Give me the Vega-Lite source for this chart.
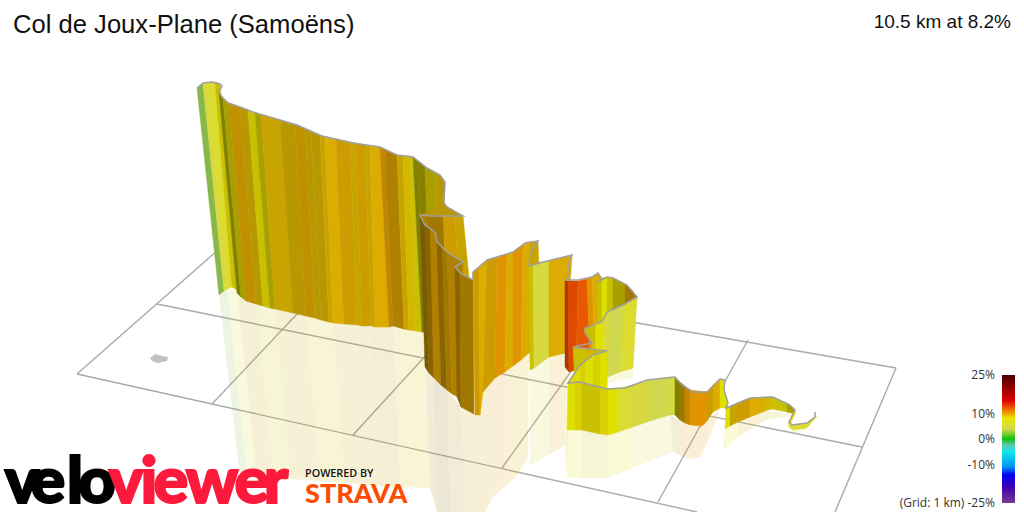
{
  "$schema": "https://vega.github.io/schema/vega-lite/v6.json",
  "width": 1024,
  "height": 512,
  "autosize": "none",
  "padding": 0,
  "background": "white",
  "view": {"stroke": null},
  "projection": {"type": "identity", "scale": 1, "translate": [0, 0]},
  "datasets": {
    "grid": [
      {"geo": {"type": "LineString", "coordinates": [[77,374],[218,250]]}},
      {"geo": {"type": "LineString", "coordinates": [[77,374],[697,512]]}},
      {"geo": {"type": "LineString", "coordinates": [[157,304],[862,447]]}},
      {"geo": {"type": "LineString", "coordinates": [[218,250],[896,368]]}},
      {"geo": {"type": "LineString", "coordinates": [[896,368],[835,512]]}},
      {"geo": {"type": "LineString", "coordinates": [[298,313],[212,404]]}},
      {"geo": {"type": "LineString", "coordinates": [[440,340],[353,435]]}},
      {"geo": {"type": "LineString", "coordinates": [[590,345],[502,468]]}},
      {"geo": {"type": "LineString", "coordinates": [[748,340],[658,502]]}}
    ],
    "start": [
      {"geo": {"type": "Polygon", "coordinates": [[[150,358],[155,354],[162,356],[168,357],[167,361],[158,363],[152,361],[150,358]]]}}
    ],
    "reflection": [
      {"tone":"g","geo":{"type":"Polygon","coordinates":[[[219,295],[227,289],[247,478],[240,478],[219,295]]]}},
      {"tone":"l","geo":{"type":"Polygon","coordinates":[[[227,289],[237,290],[257,478],[247,478],[227,289]]]}},
      {"tone":"d","geo":{"type":"Polygon","coordinates":[[[237,290],[256,304],[274,478],[257,478],[237,290]]]}},
      {"tone":"k","geo":{"type":"Polygon","coordinates":[[[256,304],[275,309],[291,479],[274,478],[256,304]]]}},
      {"tone":"d","geo":{"type":"Polygon","coordinates":[[[275,309],[306,316],[320,481],[291,479],[275,309]]]}},
      {"tone":"w","geo":{"type":"Polygon","coordinates":[[[306,316],[333,323],[345,483],[320,481],[306,316]]]}},
      {"tone":"d","geo":{"type":"Polygon","coordinates":[[[333,323],[371,327],[380,486],[345,483],[333,323]]]}},
      {"tone":"e","geo":{"type":"Polygon","coordinates":[[[371,327],[393,326],[400,487],[380,486],[371,327]]]}},
      {"tone":"w","geo":{"type":"Polygon","coordinates":[[[393,326],[423,332],[430,488],[400,487],[393,326]]]}},
      {"tone":"f","geo":{"type":"Polygon","coordinates":[[[425,367],[434,378],[437,512],[430,488],[425,367]]]}},
      {"tone":"h","geo":{"type":"Polygon","coordinates":[[[434,378],[447,390],[450,512],[437,512],[434,378]]]}},
      {"tone":"f","geo":{"type":"Polygon","coordinates":[[[447,390],[461,407],[465,512],[450,512],[447,390]]]}},
      {"tone":"a","geo":{"type":"Polygon","coordinates":[[[461,407],[478,415],[485,512],[465,512],[461,407]]]}},
      {"tone":"a","geo":{"type":"Polygon","coordinates":[[[478,398],[490,382],[493,497],[485,512],[478,415],[478,398]]]}},
      {"tone":"j","geo":{"type":"Polygon","coordinates":[[[490,382],[505,372],[505,486],[493,497],[490,382]]]}},
      {"tone":"b","geo":{"type":"Polygon","coordinates":[[[505,372],[518,362],[518,475],[505,486],[505,372]]]}},
      {"tone":"b","geo":{"type":"Polygon","coordinates":[[[518,362],[529,353],[528,457],[518,475],[518,362]]]}},
      {"tone":"p","geo":{"type":"Polygon","coordinates":[[[530,370],[549,357],[549,455],[530,465],[530,370]]]}},
      {"tone":"b","geo":{"type":"Polygon","coordinates":[[[549,357],[566,353],[565,445],[549,455],[549,357]]]}},
      {"tone":"y","geo":{"type":"Polygon","coordinates":[[[565,367],[570,372],[567,470],[565,470],[565,367]]]}},
      {"tone":"l","geo":{"type":"Polygon","coordinates":[[[600,380],[633,368],[633,378],[600,385],[600,380]]]}},
      {"tone":"y","geo":{"type":"Polygon","coordinates":[[[567,430],[582,430],[582,478],[567,478],[567,430]]]}},
      {"tone":"k","geo":{"type":"Polygon","coordinates":[[[582,430],[608,435],[607,478],[582,478],[582,430]]]}},
      {"tone":"y","geo":{"type":"Polygon","coordinates":[[[608,435],[630,428],[633,468],[607,478],[608,435]]]}},
      {"tone":"p","geo":{"type":"Polygon","coordinates":[[[630,428],[670,415],[673,452],[660,457],[633,468],[630,428]]]}},
      {"tone":"o","geo":{"type":"Polygon","coordinates":[[[670,415],[680,420],[680,455],[673,452],[670,415]]]}},
      {"tone":"j","geo":{"type":"Polygon","coordinates":[[[680,420],[707,421],[707,443],[700,457],[687,459],[680,455],[680,420]]]}},
      {"tone":"b","geo":{"type":"Polygon","coordinates":[[[707,421],[720,408],[715,423],[707,443],[707,421]]]}},
      {"tone":"y","geo":{"type":"Polygon","coordinates":[[[725,429],[738,422],[738,437],[723,450],[725,429]]]}},
      {"tone":"b","geo":{"type":"Polygon","coordinates":[[[738,422],[765,411],[765,420],[738,437],[738,422]]]}},
      {"tone":"w","geo":{"type":"Polygon","coordinates":[[[765,411],[795,414],[790,416],[765,420],[765,411]]]}},
      {"tone":"l","geo":{"type":"Polygon","coordinates":[[[789,427],[807,428],[805,431],[792,434],[789,427]]]}}
    ],
    "walls": [
      {"tone":"g","geo":{"type":"Polygon","coordinates":[[[197,88],[203,83],[224,291],[219,295],[197,88]]]}},
      {"tone":"p","geo":{"type":"Polygon","coordinates":[[[203,83],[207,82],[227,289],[224,291],[203,83]]]}},
      {"tone":"l","geo":{"type":"Polygon","coordinates":[[[207,82],[215,82],[232,287],[227,289],[207,82]]]}},
      {"tone":"k","geo":{"type":"Polygon","coordinates":[[[215,82],[220,84],[237,290],[232,287],[215,82]]]}},
      {"tone":"m","geo":{"type":"Polygon","coordinates":[[[219,92],[223,98],[241,297],[237,293],[219,92]]]}},
      {"tone":"o","geo":{"type":"Polygon","coordinates":[[[223,98],[229,103],[246,301],[241,297],[223,98]]]}},
      {"tone":"e","geo":{"type":"Polygon","coordinates":[[[229,103],[240,107],[256,304],[246,301],[229,103]]]}},
      {"tone":"q","geo":{"type":"Polygon","coordinates":[[[240,107],[248,110],[263,306],[256,304],[240,107]]]}},
      {"tone":"k","geo":{"type":"Polygon","coordinates":[[[248,110],[255,113],[270,308],[263,306],[248,110]]]}},
      {"tone":"o","geo":{"type":"Polygon","coordinates":[[[255,113],[261,115],[275,309],[270,308],[255,113]]]}},
      {"tone":"d","geo":{"type":"Polygon","coordinates":[[[261,115],[280,120],[293,313],[275,309],[261,115]]]}},
      {"tone":"q","geo":{"type":"Polygon","coordinates":[[[280,120],[295,125],[306,316],[293,313],[280,120]]]}},
      {"tone":"e","geo":{"type":"Polygon","coordinates":[[[295,125],[305,129],[315,318],[306,316],[295,125]]]}},
      {"tone":"q","geo":{"type":"Polygon","coordinates":[[[305,129],[311,132],[321,320],[315,318],[305,129]]]}},
      {"tone":"q","geo":{"type":"Polygon","coordinates":[[[311,132],[320,135],[329,322],[321,320],[311,132]]]}},
      {"tone":"d","geo":{"type":"Polygon","coordinates":[[[320,135],[325,137],[333,323],[329,322],[320,135]]]}},
      {"tone":"b","geo":{"type":"Polygon","coordinates":[[[325,137],[336,139],[344,324],[333,323],[325,137]]]}},
      {"tone":"a","geo":{"type":"Polygon","coordinates":[[[336,139],[350,142],[357,325],[344,324],[336,139]]]}},
      {"tone":"d","geo":{"type":"Polygon","coordinates":[[[350,142],[356,143],[362,326],[357,325],[350,142]]]}},
      {"tone":"a","geo":{"type":"Polygon","coordinates":[[[356,143],[365,145],[371,326],[362,326],[356,143]]]}},
      {"tone":"d","geo":{"type":"Polygon","coordinates":[[[365,145],[370,146],[375,327],[371,326],[365,145]]]}},
      {"tone":"b","geo":{"type":"Polygon","coordinates":[[[370,146],[380,147],[389,327],[375,327],[370,146]]]}},
      {"tone":"i","geo":{"type":"Polygon","coordinates":[[[380,147],[385,150],[393,326],[389,327],[380,147]]]}},
      {"tone":"f","geo":{"type":"Polygon","coordinates":[[[385,150],[397,155],[404,329],[393,326],[385,150]]]}},
      {"tone":"d","geo":{"type":"Polygon","coordinates":[[[397,155],[403,156],[409,330],[404,329],[397,155]]]}},
      {"tone":"w","geo":{"type":"Polygon","coordinates":[[[403,156],[410,156],[416,331],[409,330],[403,156]]]}},
      {"tone":"k","geo":{"type":"Polygon","coordinates":[[[410,156],[413,157],[422,332],[416,331],[410,156]]]}},
      {"tone":"m","geo":{"type":"Polygon","coordinates":[[[413,157],[417,160],[426,332],[422,332],[413,157]]]}},
      {"tone":"x","geo":{"type":"Polygon","coordinates":[[[417,160],[425,167],[432,332],[426,332],[417,160]]]}},
      {"tone":"o","geo":{"type":"Polygon","coordinates":[[[425,167],[435,172],[438,332],[432,332],[425,167]]]}},
      {"tone":"q","geo":{"type":"Polygon","coordinates":[[[435,172],[441,176],[445,182],[444,203],[444,332],[438,332],[435,172]]]}},
      {"tone":"q","geo":{"type":"Polygon","coordinates":[[[444,203],[447,207],[463,216],[420,216],[444,203]]]}},
      {"tone":"f","geo":{"type":"Polygon","coordinates":[[[420,215],[428,215],[432,300],[425,300],[420,215]]]}},
      {"tone":"v","geo":{"type":"Polygon","coordinates":[[[428,215],[443,216],[447,300],[432,300],[428,215]]]}},
      {"tone":"a","geo":{"type":"Polygon","coordinates":[[[443,216],[455,216],[459,290],[447,300],[443,216]]]}},
      {"tone":"d","geo":{"type":"Polygon","coordinates":[[[455,216],[463,216],[469,278],[459,290],[455,216]]]}},
      {"tone":"t","geo":{"type":"Polygon","coordinates":[[[420,215],[425,225],[429,373],[425,367],[420,215]]]}},
      {"tone":"h","geo":{"type":"Polygon","coordinates":[[[425,225],[430,229],[434,378],[429,373],[425,225]]]}},
      {"tone":"f","geo":{"type":"Polygon","coordinates":[[[430,229],[435,232],[437,242],[441,385],[434,378],[430,229]]]}},
      {"tone":"h","geo":{"type":"Polygon","coordinates":[[[437,242],[442,248],[447,390],[441,385],[437,242]]]}},
      {"tone":"v","geo":{"type":"Polygon","coordinates":[[[442,248],[447,252],[452,394],[447,390],[442,248]]]}},
      {"tone":"f","geo":{"type":"Polygon","coordinates":[[[447,252],[463,262],[458,397],[452,394],[447,252]]]}},
      {"tone":"h","geo":{"type":"Polygon","coordinates":[[[455,267],[460,273],[461,407],[457,397],[455,267]]]}},
      {"tone":"v","geo":{"type":"Polygon","coordinates":[[[460,273],[473,280],[474,414],[461,407],[460,273]]]}},
      {"tone":"a","geo":{"type":"Polygon","coordinates":[[[473,272],[479,267],[480,415],[475,415],[473,272]]]}},
      {"tone":"b","geo":{"type":"Polygon","coordinates":[[[479,267],[487,260],[483,392],[480,415],[479,267]]]}},
      {"tone":"a","geo":{"type":"Polygon","coordinates":[[[487,260],[497,257],[495,378],[483,392],[487,260]]]}},
      {"tone":"j","geo":{"type":"Polygon","coordinates":[[[497,257],[507,254],[505,372],[495,378],[497,257]]]}},
      {"tone":"b","geo":{"type":"Polygon","coordinates":[[[507,254],[513,252],[513,366],[505,372],[507,254]]]}},
      {"tone":"j","geo":{"type":"Polygon","coordinates":[[[513,252],[523,245],[521,360],[513,366],[513,252]]]}},
      {"tone":"b","geo":{"type":"Polygon","coordinates":[[[523,245],[530,242],[529,353],[521,360],[523,245]]]}},
      {"tone":"d","geo":{"type":"Polygon","coordinates":[[[530,242],[538,241],[542,345],[529,353],[530,242]]]}},
      {"tone":"k","geo":{"type":"Polygon","coordinates":[[[529,266],[533,265],[534,368],[530,370],[529,266]]]}},
      {"tone":"p","geo":{"type":"Polygon","coordinates":[[[533,265],[549,261],[549,357],[534,368],[533,265]]]}},
      {"tone":"b","geo":{"type":"Polygon","coordinates":[[[549,261],[572,255],[566,353],[549,357],[549,261]]]}},
      {"tone":"s","geo":{"type":"Polygon","coordinates":[[[565,281],[568,281],[569,372],[565,367],[565,281]]]}},
      {"tone":"r","geo":{"type":"Polygon","coordinates":[[[568,281],[578,281],[576,370],[569,372],[568,281]]]}},
      {"tone":"n","geo":{"type":"Polygon","coordinates":[[[578,281],[587,279],[590,360],[576,370],[578,281]]]}},
      {"tone":"j","geo":{"type":"Polygon","coordinates":[[[587,279],[592,277],[595,355],[590,360],[587,279]]]}},
      {"tone":"b","geo":{"type":"Polygon","coordinates":[[[592,277],[598,273],[602,279],[600,350],[595,355],[592,277]]]}},
      {"tone":"k","geo":{"type":"Polygon","coordinates":[[[598,281],[602,278],[602,340],[598,340],[598,281]]]}},
      {"tone":"y","geo":{"type":"Polygon","coordinates":[[[602,278],[607,277],[607,340],[602,340],[602,278]]]}},
      {"tone":"k","geo":{"type":"Polygon","coordinates":[[[607,277],[613,278],[613,340],[607,340],[607,277]]]}},
      {"tone":"o","geo":{"type":"Polygon","coordinates":[[[613,278],[625,284],[625,340],[613,340],[613,278]]]}},
      {"tone":"v","geo":{"type":"Polygon","coordinates":[[[625,284],[632,290],[637,297],[630,340],[625,340],[625,284]]]}},
      {"tone":"l","geo":{"type":"Polygon","coordinates":[[[637,297],[623,305],[620,372],[633,368],[637,297]]]}},
      {"tone":"z","geo":{"type":"Polygon","coordinates":[[[623,305],[610,311],[608,377],[620,372],[623,305]]]}},
      {"tone":"p","geo":{"type":"Polygon","coordinates":[[[610,311],[604,318],[605,378],[608,377],[610,311]]]}},
      {"tone":"l","geo":{"type":"Polygon","coordinates":[[[604,318],[602,322],[604,380],[605,378],[604,318]]]}},
      {"tone":"y","geo":{"type":"Polygon","coordinates":[[[602,322],[595,325],[595,380],[604,380],[602,322]]]}},
      {"tone":"k","geo":{"type":"Polygon","coordinates":[[[595,325],[585,328],[585,333],[592,343],[590,380],[595,380],[595,325]]]}},
      {"tone":"k","geo":{"type":"Polygon","coordinates":[[[573,347],[585,349],[585,385],[575,385],[573,347]]]}},
      {"tone":"w","geo":{"type":"Polygon","coordinates":[[[585,349],[597,350],[597,388],[585,385],[585,349]]]}},
      {"tone":"k","geo":{"type":"Polygon","coordinates":[[[597,350],[607,351],[607,390],[597,388],[597,350]]]}},
      {"tone":"y","geo":{"type":"Polygon","coordinates":[[[607,351],[600,353],[600,390],[607,390],[607,351]]]}},
      {"tone":"c","geo":{"type":"Polygon","coordinates":[[[600,353],[593,355],[593,390],[600,390],[600,353]]]}},
      {"tone":"y","geo":{"type":"Polygon","coordinates":[[[593,355],[585,361],[585,388],[593,390],[593,355]]]}},
      {"tone":"c","geo":{"type":"Polygon","coordinates":[[[585,361],[580,365],[580,386],[585,388],[585,361]]]}},
      {"tone":"y","geo":{"type":"Polygon","coordinates":[[[580,365],[570,380],[568,383],[580,386],[580,365]]]}},
      {"tone":"y","geo":{"type":"Polygon","coordinates":[[[568,382],[575,382],[575,430],[567,430],[568,382]]]}},
      {"tone":"c","geo":{"type":"Polygon","coordinates":[[[575,382],[582,383],[582,430],[575,430],[575,382]]]}},
      {"tone":"k","geo":{"type":"Polygon","coordinates":[[[582,383],[600,388],[600,434],[582,430],[582,383]]]}},
      {"tone":"c","geo":{"type":"Polygon","coordinates":[[[600,388],[608,389],[608,435],[600,434],[600,388]]]}},
      {"tone":"y","geo":{"type":"Polygon","coordinates":[[[608,389],[618,388],[618,432],[608,435],[608,389]]]}},
      {"tone":"l","geo":{"type":"Polygon","coordinates":[[[618,388],[630,386],[630,428],[618,432],[618,388]]]}},
      {"tone":"p","geo":{"type":"Polygon","coordinates":[[[630,386],[650,380],[650,421],[630,428],[630,386]]]}},
      {"tone":"z","geo":{"type":"Polygon","coordinates":[[[650,380],[670,377],[670,415],[650,421],[650,380]]]}},
      {"tone":"p","geo":{"type":"Polygon","coordinates":[[[670,377],[675,377],[675,415],[670,415],[670,377]]]}},
      {"tone":"m","geo":{"type":"Polygon","coordinates":[[[675,377],[680,382],[680,420],[675,415],[675,377]]]}},
      {"tone":"v","geo":{"type":"Polygon","coordinates":[[[680,382],[685,386],[685,423],[680,420],[680,382]]]}},
      {"tone":"i","geo":{"type":"Polygon","coordinates":[[[685,386],[690,390],[690,425],[685,423],[685,386]]]}},
      {"tone":"j","geo":{"type":"Polygon","coordinates":[[[690,390],[707,392],[707,421],[702,426],[690,425],[690,390]]]}},
      {"tone":"a","geo":{"type":"Polygon","coordinates":[[[707,392],[713,385],[713,412],[707,421],[707,392]]]}},
      {"tone":"b","geo":{"type":"Polygon","coordinates":[[[713,385],[720,379],[720,408],[713,412],[713,385]]]}},
      {"tone":"y","geo":{"type":"Polygon","coordinates":[[[720,379],[725,380],[724,390],[728,403],[726,408],[720,408],[720,379]]]}},
      {"tone":"y","geo":{"type":"Polygon","coordinates":[[[726,408],[730,407],[730,426],[725,429],[726,408]]]}},
      {"tone":"d","geo":{"type":"Polygon","coordinates":[[[730,407],[738,403],[738,422],[730,426],[730,407]]]}},
      {"tone":"a","geo":{"type":"Polygon","coordinates":[[[738,403],[750,398],[750,417],[738,422],[738,403]]]}},
      {"tone":"b","geo":{"type":"Polygon","coordinates":[[[750,398],[765,397],[765,411],[750,417],[750,398]]]}},
      {"tone":"w","geo":{"type":"Polygon","coordinates":[[[765,397],[772,397],[772,409],[765,411],[765,397]]]}},
      {"tone":"k","geo":{"type":"Polygon","coordinates":[[[772,397],[787,403],[787,412],[772,409],[772,397]]]}},
      {"tone":"o","geo":{"type":"Polygon","coordinates":[[[787,403],[795,410],[795,414],[787,412],[787,403]]]}},
      {"tone":"y","geo":{"type":"Polygon","coordinates":[[[795,410],[789,422],[789,427],[795,414],[795,410]]]}},
      {"tone":"l","geo":{"type":"Polygon","coordinates":[[[789,422],[792,425],[807,423],[815,417],[817,416],[807,428],[793,430],[789,427],[789,422]]]}}
    ],
    "route": [
      {"geo":{"type":"LineString","coordinates":[[197,88],[203,83],[212,82],[220,84],[222,86],[219,92],[222,97],[228,103],[240,107],[253,112],[280,120],[297,125],[322,136],[353,143],[380,147],[397,155],[413,157],[427,168],[440,175],[445,182],[444,203],[447,207],[463,216],[432,216],[420,215],[425,225],[435,232],[437,242],[447,252],[463,262],[455,267],[460,273],[473,280],[473,272],[487,260],[497,257],[513,252],[525,243],[538,241],[530,253],[529,266],[543,262],[572,255],[568,265],[570,273],[566,280],[578,280],[592,277],[598,273],[602,279],[598,282],[607,277],[613,278],[627,285],[637,297],[623,305],[607,312],[602,322],[585,328],[585,333],[592,343],[573,347],[590,349],[607,351],[593,355],[580,365],[570,380],[568,383],[580,382],[607,389],[625,388],[647,380],[675,377],[682,385],[693,392],[707,392],[720,379],[725,380],[724,390],[728,403],[726,408],[750,398],[773,397],[790,405],[795,410],[789,422],[792,425],[807,423],[815,417],[815,412]]}}
    ],
    "scalebar": [
      {"geo":{"type":"Polygon","coordinates":[[[1002,375],[1015,375],[1015,503],[1002,503],[1002,375]]]}}
    ],
    "scaleLabels": [
      {"label":"25%","lon":995,"lat":379},
      {"label":"10%","lon":995,"lat":418},
      {"label":"0%","lon":995,"lat":443},
      {"label":"-10%","lon":995,"lat":469},
      {"label":"(Grid: 1 km) -25%","lon":995,"lat":507}
    ],
    "velo": [
      {"c":"v","lon":22,"lat":503},
      {"c":"e","lon":48,"lat":503},
      {"c":"l","lon":75,"lat":503},
      {"c":"o","lon":97,"lat":503}
    ],
    "viewer": [
      {"c":"v","lon":126,"lat":503},
      {"c":"i","lon":149,"lat":503},
      {"c":"e","lon":171,"lat":503},
      {"c":"w","lon":212,"lat":503},
      {"c":"e","lon":252,"lat":503},
      {"c":"r","lon":276,"lat":503}
    ]
  },
  "layer": [
    {
      "data": {"name": "grid"},
      "mark": {"type": "geoshape", "filled": false, "stroke": "#aaaaaa", "strokeWidth": 1.4},
      "encoding": {"shape": {"field": "geo", "type": "geojson"}}
    },
    {
      "data": {"name": "start"},
      "mark": {"type": "geoshape", "fill": "#c0c0c0", "stroke": null},
      "encoding": {"shape": {"field": "geo", "type": "geojson"}}
    },
    {
      "data": {"name": "reflection"},
      "mark": {"type": "geoshape", "opacity": 0.16, "stroke": null},
      "encoding": {
        "shape": {"field": "geo", "type": "geojson"},
        "color": {
          "field": "tone",
          "type": "nominal",
          "legend": null,
          "scale": {
            "domain": ["g","p","l","y","c","k","o","m","x","d","q","e","a","b","w","i","f","h","t","v","j","r","n","s","z"],
            "range": ["#88b848","#d8d840","#dcdc30","#e0e000","#d8d000","#c8c000","#a8a000","#808000","#8a8000","#c8a400","#b89800","#c09000","#cc9c00","#dcac00","#d4b800","#c08800","#b08000","#8a6400","#7a5c00","#a07800","#e09400","#e04800","#e85800","#a83800","#d0d850"]
          }
        }
      }
    },
    {
      "data": {"name": "walls"},
      "mark": {"type": "geoshape", "strokeWidth": 0.5},
      "encoding": {
        "shape": {"field": "geo", "type": "geojson"},
        "color": {
          "field": "tone",
          "type": "nominal",
          "legend": null,
          "scale": {
            "domain": ["g","p","l","y","c","k","o","m","x","d","q","e","a","b","w","i","f","h","t","v","j","r","n","s","z"],
            "range": ["#88b848","#d8d840","#dcdc30","#e0e000","#d8d000","#c8c000","#a8a000","#808000","#8a8000","#c8a400","#b89800","#c09000","#cc9c00","#dcac00","#d4b800","#c08800","#b08000","#8a6400","#7a5c00","#a07800","#e09400","#e04800","#e85800","#a83800","#d0d850"]
          }
        },
        "stroke": {
          "field": "tone",
          "type": "nominal",
          "legend": null,
          "scale": {
            "domain": ["g","p","l","y","c","k","o","m","x","d","q","e","a","b","w","i","f","h","t","v","j","r","n","s","z"],
            "range": ["#88b848","#d8d840","#dcdc30","#e0e000","#d8d000","#c8c000","#a8a000","#808000","#8a8000","#c8a400","#b89800","#c09000","#cc9c00","#dcac00","#d4b800","#c08800","#b08000","#8a6400","#7a5c00","#a07800","#e09400","#e04800","#e85800","#a83800","#d0d850"]
          }
        }
      }
    },
    {
      "data": {"name": "route"},
      "mark": {"type": "geoshape", "filled": false, "stroke": "#a0a0a0", "strokeWidth": 1.5},
      "encoding": {"shape": {"field": "geo", "type": "geojson"}}
    },
    {
      "data": {"name": "scalebar"},
      "mark": {
        "type": "geoshape",
        "stroke": null,
        "fill": {
          "gradient": "linear", "x1": 0, "y1": 0, "x2": 0, "y2": 1,
          "stops": [
            {"offset": 0, "color": "#4a0000"},
            {"offset": 0.2, "color": "#e00000"},
            {"offset": 0.26, "color": "#f06000"},
            {"offset": 0.3, "color": "#eea000"},
            {"offset": 0.336, "color": "#e8e800"},
            {"offset": 0.42, "color": "#d8d850"},
            {"offset": 0.5, "color": "#10c010"},
            {"offset": 0.547, "color": "#60c8b0"},
            {"offset": 0.6, "color": "#10e8e8"},
            {"offset": 0.72, "color": "#0090f0"},
            {"offset": 0.78, "color": "#0000f0"},
            {"offset": 0.875, "color": "#4000b0"},
            {"offset": 1, "color": "#7a3a90"}
          ]
        }
      },
      "encoding": {"shape": {"field": "geo", "type": "geojson"}}
    },
    {
      "data": {"name": "scaleLabels"},
      "mark": {"type": "text", "align": "right", "baseline": "alphabetic", "font": "Open Sans", "fontSize": 12, "color": "#333333"},
      "encoding": {
        "longitude": {"field": "lon", "type": "quantitative"},
        "latitude": {"field": "lat", "type": "quantitative"},
        "text": {"field": "label"}
      }
    },
    {
      "data": {"values": [{"label": "Col de Joux-Plane (Samoëns)", "lon": 13, "lat": 33}]},
      "mark": {"type": "text", "align": "left", "baseline": "alphabetic", "font": "Liberation Sans", "fontSize": 25.6, "color": "#111111"},
      "encoding": {
        "longitude": {"field": "lon", "type": "quantitative"},
        "latitude": {"field": "lat", "type": "quantitative"},
        "text": {"field": "label"}
      }
    },
    {
      "data": {"values": [{"label": "10.5 km at 8.2%", "lon": 1011, "lat": 28}]},
      "mark": {"type": "text", "align": "right", "baseline": "alphabetic", "font": "Liberation Sans", "fontSize": 19, "color": "#111111"},
      "encoding": {
        "longitude": {"field": "lon", "type": "quantitative"},
        "latitude": {"field": "lat", "type": "quantitative"},
        "text": {"field": "label"}
      }
    },
    {
      "data": {"name": "velo"},
      "mark": {"type": "text", "align": "center", "baseline": "alphabetic", "font": "Lato", "fontWeight": 900, "fontSize": 65, "color": "#000000", "stroke": "#000000", "strokeWidth": 2},
      "encoding": {
        "longitude": {"field": "lon", "type": "quantitative"},
        "latitude": {"field": "lat", "type": "quantitative"},
        "text": {"field": "c"}
      }
    },
    {
      "data": {"name": "viewer"},
      "mark": {"type": "text", "align": "center", "baseline": "alphabetic", "font": "Lato", "fontWeight": 900, "fontSize": 65, "color": "#fc1a3c", "stroke": "#fc1a3c", "strokeWidth": 2},
      "encoding": {
        "longitude": {"field": "lon", "type": "quantitative"},
        "latitude": {"field": "lat", "type": "quantitative"},
        "text": {"field": "c"}
      }
    },
    {
      "data": {"values": [{"label": "POWERED BY", "lon": 305, "lat": 477}]},
      "mark": {"type": "text", "align": "left", "baseline": "alphabetic", "font": "Open Sans", "fontWeight": 600, "fontSize": 10.8, "color": "#111111"},
      "encoding": {
        "longitude": {"field": "lon", "type": "quantitative"},
        "latitude": {"field": "lat", "type": "quantitative"},
        "text": {"field": "label"}
      }
    },
    {
      "data": {"values": [{"label": "STRAVA", "lon": 305, "lat": 503}]},
      "mark": {"type": "text", "align": "left", "baseline": "alphabetic", "font": "Lato", "fontWeight": 900, "fontSize": 27, "color": "#fc4c02"},
      "encoding": {
        "longitude": {"field": "lon", "type": "quantitative"},
        "latitude": {"field": "lat", "type": "quantitative"},
        "text": {"field": "label"}
      }
    }
  ]
}
